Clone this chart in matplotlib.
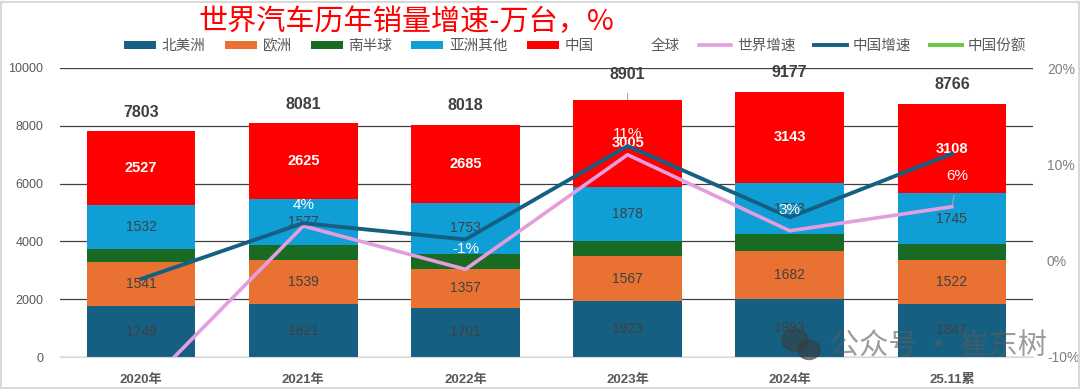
import numpy as np
import matplotlib
matplotlib.use('Agg')
import matplotlib.pyplot as plt
from matplotlib.patches import Patch, Rectangle, Ellipse
from matplotlib.lines import Line2D

plt.rcParams['font.family'] = ['Liberation Sans', 'Noto Sans CJK SC']

# 数据（万台，%）
years = ['2020年', '2021年', '2022年', '2023年', '2024年', '25.11累']
north_america = [1749, 1821, 1701, 1923, 1993, 1847]
europe = [1541, 1539, 1357, 1567, 1682, 1522]
south = [454, 519, 522, 528, 566, 544]
asia_other = [1532, 1577, 1753, 1878, 1793, 1745]
china = [2527, 2625, 2685, 3005, 3143, 3108]
totals = [7803, 8081, 8018, 8901, 9177, 8766]
world_growth = [-13.5, 3.6, -0.9, 11.0, 3.1, 5.6]
china_growth = [-1.9, 3.9, 2.2, 11.9, 4.5, 11.1]

series = [('北美洲', north_america, '#156082'),
          ('欧洲', europe, '#E97132'),
          ('南半球', south, '#196B24'),
          ('亚洲其他', asia_other, '#0F9ED5'),
          ('中国', china, '#FF0000')]

fig = plt.figure(figsize=(10.8, 3.89), dpi=100)
ax = fig.add_axes([60 / 1080, 1 - 357 / 389, 973 / 1080, 289 / 389])
ax2 = ax.twinx()

x = np.arange(len(years))
bottom = np.zeros(len(years))
for name, vals, color in series:
    bars = ax.bar(x, vals, width=0.67, bottom=bottom, color=color, zorder=2)
    for xi, b, v in zip(x, bottom, vals):
        if name == '南半球':
            continue
        if name == '中国':
            ax.text(xi, b + v / 2, str(v), ha='center', va='center',
                    fontsize=10.5, fontweight='bold', color='white', zorder=3)
        else:
            ax.text(xi, b + v / 2, str(v), ha='center', va='center',
                    fontsize=10, color='#404040', zorder=3)
    bottom += np.array(vals)

for i, t in enumerate(totals):
    if i == 3:
        ax.annotate(str(t), xy=(x[i], t), xytext=(0, 18), textcoords='offset points',
                    ha='center', va='center', fontsize=11.5, fontweight='bold',
                    color='#404040', annotation_clip=False,
                    arrowprops=dict(arrowstyle='-', color='#A6A6A6', lw=0.8,
                                    shrinkA=6, shrinkB=0))
    else:
        ax.annotate(str(t), xy=(x[i], t), xytext=(0, 14), textcoords='offset points',
                    ha='center', va='center', fontsize=11.5, fontweight='bold',
                    color='#404040', annotation_clip=False)

ax.set_xlim(-0.5, len(years) - 0.5)
ax.set_ylim(0, 10000)
ax.set_yticks(range(0, 10001, 2000))
ax.yaxis.grid(True, color='#404040', lw=0.9, zorder=0)
ax.set_axisbelow(True)
for s in ['top', 'right', 'left']:
    ax.spines[s].set_visible(False)
ax.spines['bottom'].set_color('#D9D9D9')
ax.tick_params(axis='both', length=0, colors='#595959', labelsize=9)
ax.set_xticks(x)
ax.set_xticklabels(years, fontweight='bold', fontsize=9.5)
ax.tick_params(axis='x', pad=12)
ax.tick_params(axis='y', pad=12)

# 增速折线
ax2.plot(x, world_growth, color='#E59EDD', lw=2.6, zorder=4)
ax2.plot(x, china_growth, color='#156082', lw=2.8, zorder=5)
ax2.set_ylim(-10, 20)
ax2.set_yticks([-10, 0, 10, 20])
ax2.set_yticklabels(['-10%', '0%', '10%', '20%'])
ax2.tick_params(axis='y', length=0, colors='#808080', labelsize=10, pad=10)
for s in ax2.spines.values():
    s.set_visible(False)

offsets = [(0, 15), (0, 15), (0, 15), (0, 15), (0, 15), (4, 22)]
for i, g in enumerate(world_growth):
    if g < -10:
        continue
    if i == 5:
        ax2.annotate(f'{g:.0f}%', xy=(x[i], g), xytext=offsets[i], textcoords='offset points',
                     ha='center', va='center', fontsize=11, color='white', zorder=6,
                     arrowprops=dict(arrowstyle='-', color='#A6A6A6', lw=0.8,
                                     shrinkA=7, shrinkB=0))
    else:
        ax2.annotate(f'{g:.0f}%', xy=(x[i], g), xytext=offsets[i], textcoords='offset points',
                     ha='center', va='center', fontsize=11, color='white', zorder=6)

fig.text(406 / 1080, 1 - 22 / 389, '世界汽车历年销量增速-万台，%', color='#FF0000',
         fontsize=21, ha='center', va='center', family=['Noto Sans CJK SC'],
         fontweight='medium')

handles = [Patch(facecolor=c, edgecolor='none') for _, _, c in series]
labels = [n for n, _, _ in series]
handles += [Patch(facecolor='none', edgecolor='none'),
            Line2D([], [], color='#E59EDD', lw=2.6),
            Line2D([], [], color='#156082', lw=2.8),
            Line2D([], [], color='#66C83C', lw=2.8)]
labels += ['全球', '世界增速', '中国增速', '中国份额']
leg = fig.legend(handles, labels, loc='center', bbox_to_anchor=(575 / 1080, 1 - 46 / 389),
                 ncol=9, frameon=False, fontsize=10.5, handlelength=2.2, handleheight=0.5,
                 handletextpad=0.4, columnspacing=1.3)
for t in leg.get_texts():
    t.set_color('#595959')

# 水印
fig.text(830 / 1080, 1 - 346 / 389, '公众号 · 崔东树', fontsize=21, color='#5A5A5A',
         alpha=0.6, ha='left', va='center', family=['Noto Sans CJK SC'])
fig.patches.append(Ellipse((795 / 1080, 1 - 340 / 389), 26 / 1080, 22 / 389,
                           transform=fig.transFigure, color='#3A3A3A', alpha=0.55))
fig.patches.append(Ellipse((809 / 1080, 1 - 350 / 389), 22 / 1080, 19 / 389,
                           transform=fig.transFigure, color='#3A3A3A', alpha=0.6))

fig.patches.append(Rectangle((0.001, 0.002), 0.998, 0.994, transform=fig.transFigure,
                             fill=False, edgecolor='#D9D9D9', lw=1.5))

fig.savefig('out.png', dpi=100)
